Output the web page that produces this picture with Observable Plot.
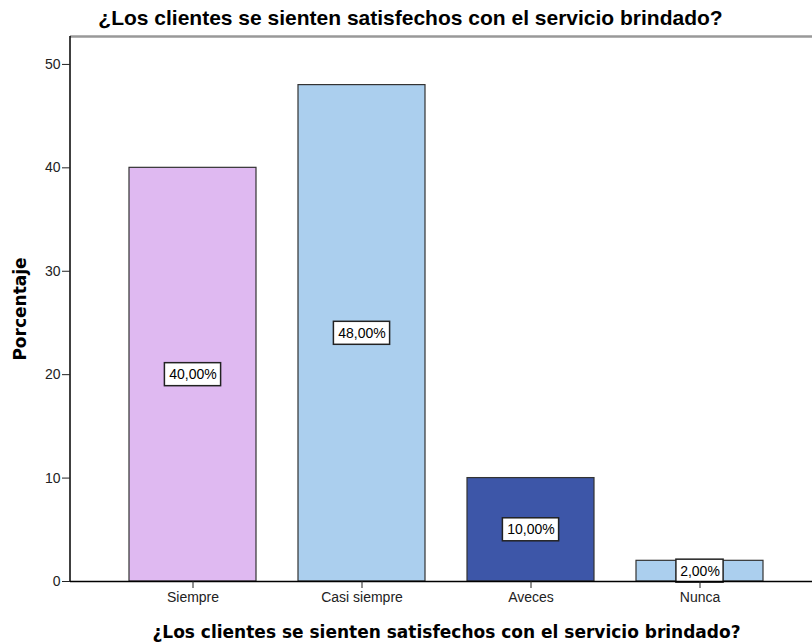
<!DOCTYPE html>
<html><head><meta charset="utf-8">
<script src="https://cdn.jsdelivr.net/npm/d3@7"></script>
<script src="https://cdn.jsdelivr.net/npm/@observablehq/plot@0.6"></script>
<style>body{margin:0;background:#fff;}</style>
</head><body><div id="chart"></div>
<script>
const categories = ["Siempre", "Casi siempre", "Aveces", "Nunca"];
const percentages = [40, 48, 10, 2];
const barLabels = ["40,00%", "48,00%", "10,00%", "2,00%"];
const barColors = ["#dfb9f1", "#abcfee", "#3d56a8", "#abcfee"];
const yTicks = [0, 10, 20, 30, 40, 50];
const titleText = "¿Los clientes se sienten satisfechos con el servicio brindado?";
const xLabelText = "¿Los clientes se sienten satisfechos con el servicio brindado?";
const yLabelText = "Porcentaje";

const data = categories.map((c, i) => ({cat: c, value: percentages[i], label: barLabels[i], color: barColors[i]}));
const yMax = 52.7;
const xRange = [129, 763];
const padInner = 0.25;
const bandwidth = (xRange[1] - xRange[0]) / (categories.length - padInner) * (1 - padInner);

const labelLens = [...new Set(data.map(d => d.label.length))];
const labelBoxes = labelLens.map(len => {
  const w = 9 * len + 2;
  return Plot.barY(data.filter(d => d.label.length === len), {
    x: "cat", y1: d => d.value / 2, y2: d => d.value / 2,
    fill: "white", stroke: "#222", strokeWidth: 1.5,
    insetLeft: (bandwidth - w) / 2, insetRight: (bandwidth - w) / 2,
    insetTop: -11.5, insetBottom: -11.5
  });
});

const leftLine = (index, scales, values, dims) => {
  const l = document.createElementNS("http://www.w3.org/2000/svg", "line");
  l.setAttribute("x1", dims.marginLeft); l.setAttribute("x2", dims.marginLeft);
  l.setAttribute("y1", dims.marginTop); l.setAttribute("y2", dims.height - dims.marginBottom);
  l.setAttribute("stroke", "#000"); l.setAttribute("stroke-width", 1.5);
  return l;
};

const chart = Plot.plot({
  width: 812, height: 643,
  marginTop: 36, marginBottom: 62, marginLeft: 70, marginRight: 0,
  style: {fontFamily: "Liberation Sans, Arial, sans-serif", fontSize: "14px", color: "#222", background: "#fff"},
  x: {domain: categories, range: xRange, paddingInner: padInner, paddingOuter: 0},
  y: {domain: [0, yMax]},
  marks: [
    Plot.barY(data, {x: "cat", y: "value", fill: "color", stroke: "#333", strokeWidth: 1.2}),
    ...labelBoxes,
    Plot.text(data, {x: "cat", y: d => d.value / 2, text: "label", fontSize: 14, fill: "#000"}),
    Plot.ruleY([yMax], {stroke: "#999", strokeWidth: 2.5}),
    Plot.ruleY([0], {stroke: "#000", strokeWidth: 1.5}),
    leftLine,
    Plot.axisY({ticks: yTicks, tickSize: 8, tickPadding: 2, label: null, fontSize: 14}),
    Plot.axisX({tickSize: 7, tickPadding: 4, label: null, fontSize: 14}),
    Plot.text([titleText], {frameAnchor: "top", lineAnchor: "middle", dy: -18, dx: -31, fontSize: 21, fontWeight: "bold", fill: "#000"}),
    Plot.text([xLabelText], {frameAnchor: "bottom", lineAnchor: "middle", dy: 51, dx: 5, fontSize: 17, fontWeight: "bold", fontFamily: "DejaVu Sans", fill: "#000"}),
    Plot.text([yLabelText], {frameAnchor: "left", textAnchor: "middle", lineAnchor: "middle", dx: -50, rotate: -90, fontSize: 17, fontWeight: "bold", fontFamily: "DejaVu Sans", fill: "#000"})
  ]
});
document.getElementById("chart").appendChild(chart);
</script>
</body></html>
